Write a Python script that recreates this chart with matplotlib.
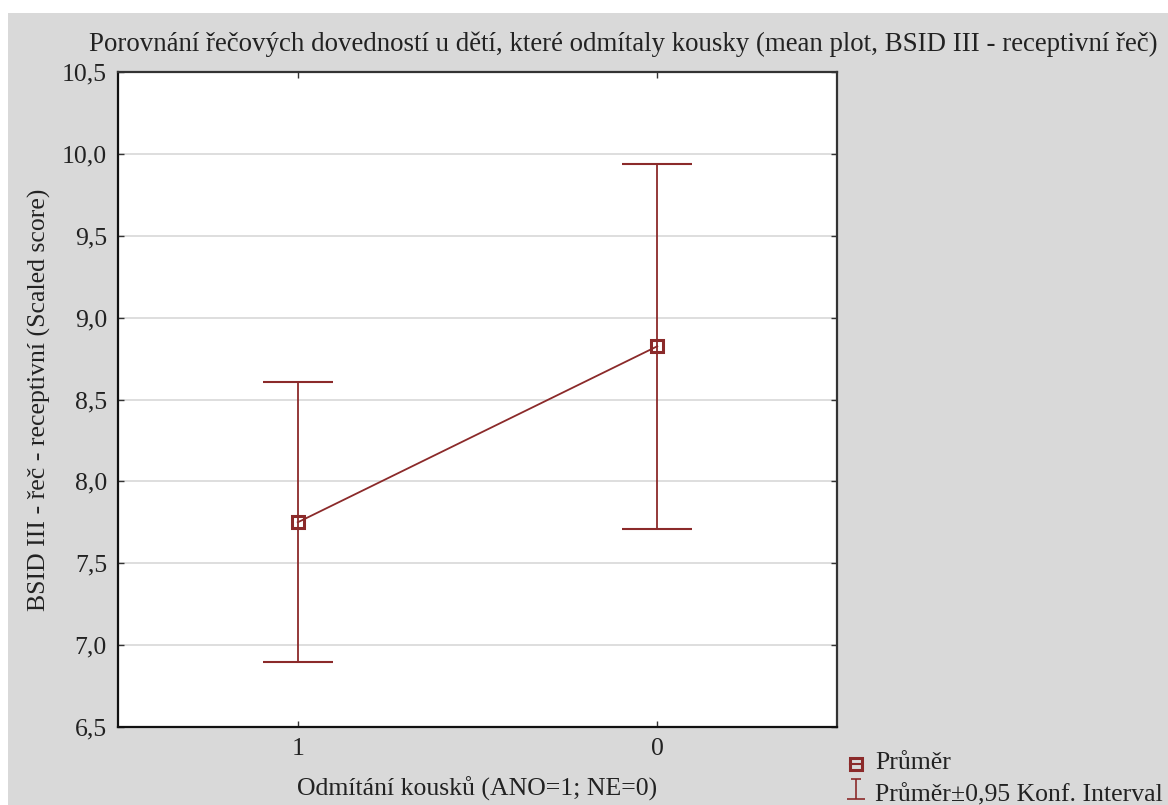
import matplotlib
matplotlib.use("Agg")
import matplotlib.pyplot as plt
from matplotlib.patches import Rectangle
from matplotlib.lines import Line2D
from matplotlib.path import Path
import numpy as np

# data
groups = ["1", "0"]
means = [7.75, 8.825]
ci_low = [6.895, 7.71]
ci_high = [8.605, 9.94]
yticks = [6.5, 7.0, 7.5, 8.0, 8.5, 9.0, 9.5, 10.0, 10.5]

plt.rcParams['font.family'] = ['Liberation Serif', 'DejaVu Serif']
red = '#8b2a2a'
txt = '#222222'
fs = 18.5

W, H = 1168, 805
fig = plt.figure(figsize=(W / 100, H / 100), dpi=100, facecolor='#d9d9d9')
# white strips at top and left of the page crop
fig.patches.append(Rectangle((0, (H - 13) / H), 1, 13 / H, transform=fig.transFigure,
                             facecolor='white', edgecolor='none', zorder=-10))
fig.patches.append(Rectangle((0, 0), 8 / W, 1, transform=fig.transFigure,
                             facecolor='white', edgecolor='none', zorder=-10))

ax = fig.add_axes([118 / W, (H - 727) / H, (837 - 118) / W, (727 - 72) / H])
ax.set_facecolor('white')

x = np.arange(len(groups))
means = np.array(means)
lo = means - np.array(ci_low)
hi = np.array(ci_high) - means
ax.errorbar(x, means, yerr=[lo, hi], fmt='none', ecolor=red, elinewidth=1.3,
            capsize=25.5, capthick=1.5, zorder=3)
ax.plot(x, means, color=red, lw=1.3, marker='s', markersize=9, markerfacecolor='none',
        markeredgecolor=red, markeredgewidth=2.2, zorder=4)

ax.set_xlim(-0.5, 1.5)
ax.set_ylim(6.5, 10.5)
ax.set_xticks(x)
ax.set_xticklabels(groups)
ax.set_yticks(yticks)
ax.set_yticklabels([f"{v:.1f}".replace('.', ',') for v in yticks])
ax.yaxis.grid(True, color='#d4d4d4', lw=1.1)
ax.set_axisbelow(True)
ax.tick_params(direction='in', length=4, width=1, top=True, right=True, labelsize=fs,
               colors='#333333', labelcolor=txt, pad=8)
for s in ax.spines.values():
    s.set_linewidth(1.6)
    s.set_color('#333333')
ax.spines['left'].set_color('#111111')
ax.spines['bottom'].set_color('#111111')

ax.set_xlabel('Odmítání kousků (ANO=1; NE=0)', fontsize=fs, color=txt, labelpad=12)
ax.set_ylabel('BSID III - řeč - receptivní (Scaled score)', fontsize=fs, color=txt, labelpad=8)

fig.text(623 / W, (H - 44) / H,
         'Porovnání řečových dovedností u dětí, které odmítaly kousky (mean plot, BSID III - receptivní řeč)',
         ha='center', va='center', fontsize=19.4, color=txt)

# legend drawn by hand below the right of the plot (pixel coords -> figure fraction)
def fx(px):
    return px / W

def fy(py):
    return (H - py) / H

fig.add_artist(Line2D([fx(850), fx(862)], [fy(764), fy(764)], color=red, lw=1.5))
fig.add_artist(Line2D([fx(856)], [fy(764)], marker='s', markersize=8.5, markerfacecolor='none',
                      markeredgecolor=red, markeredgewidth=2.2))
ci_path = Path([(-0.5, 1), (0.5, 1), (0, 1), (0, -1), (-0.9, -1), (0.9, -1)],
               [Path.MOVETO, Path.LINETO, Path.MOVETO, Path.LINETO, Path.MOVETO, Path.LINETO])
fig.add_artist(Line2D([fx(856)], [fy(789)], marker=ci_path, markersize=14.5, ls='none',
                      markerfacecolor='none', markeredgecolor=red, markeredgewidth=1.2))
fig.text(fx(875), fy(769), 'Průměr', ha='left', va='baseline', fontsize=fs, color=txt)
fig.text(fx(875), fy(801), 'Průměr±0,95 Konf. Interval', ha='left', va='baseline',
         fontsize=fs, color=txt)

fig.savefig('out.png', dpi=100, facecolor=fig.get_facecolor())
